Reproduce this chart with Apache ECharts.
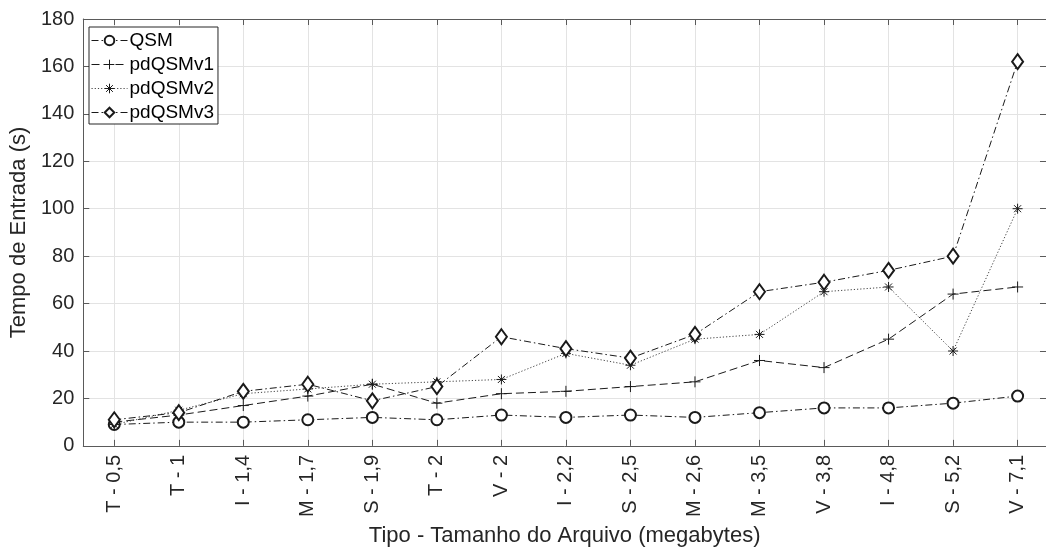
<!DOCTYPE html>
<html>
<head>
<meta charset="utf-8">
<script src="https://cdn.jsdelivr.net/npm/echarts@6/dist/echarts.min.js"></script>
<style>
  html, body { margin: 0; padding: 0; background: #fff; }
  #chart { width: 1046px; height: 552px; }
</style>
</head>
<body>
<div id="chart"></div>
<script>
// categorias (tipo - tamanho)
const categories = ['T - 0,5', 'T - 1', 'I - 1,4', 'M - 1,7', 'S - 1,9', 'T - 2', 'V - 2', 'I - 2,2',
    'S - 2,5', 'M - 2,6', 'M - 3,5', 'V - 3,8', 'I - 4,8', 'S - 5,2', 'V - 7,1'];

// tempos de entrada (s)
const qsm      = [9, 10, 10, 11, 12, 11, 13, 12, 13, 12, 14, 16, 16, 18, 21];
const pdqsmv1  = [10, 13, 17, 21, 26, 18, 22, 23, 25, 27, 36, 33, 45, 64, 67];
const pdqsmv2  = [9, 15, 22, 24, 26, 27, 28, 39, 34, 45, 47, 65, 67, 40, 100];
const pdqsmv3  = [11, 14, 23, 26, 19, 25, 46, 41, 37, 47, 65, 69, 74, 80, 162];

const yTicks = [0, 20, 40, 60, 80, 100, 120, 140, 160, 180];

const ink = '#1a1a1a';
const txt = '#262626';
const axisCol = '#5a5a5a';
const idx = categories.map((c, i) => i);
const pts = arr => arr.map((v, i) => [i, v]);

const plusPath = 'path://M5,0L5,10M0,5L10,5';
const starPath = 'path://M5,0L5,10M0,5L10,5M1.5,1.5L8.5,8.5M8.5,1.5L1.5,8.5';

function mkSeries(name, arr, symbol, size, dash, color) {
    return {
        name: name,
        type: 'line',
        data: pts(arr),
        symbol: symbol,
        symbolSize: size,
        color: color,
        lineStyle: { color: color, width: 1, type: dash },
        itemStyle: { color: symbol.indexOf('path') === 0 ? 'rgba(0,0,0,0)' : color, borderColor: ink, borderWidth: 1 },
        emphasis: { disabled: true },
        animation: false
    };
}

const chart = echarts.init(document.getElementById('chart'));
chart.setOption({
    backgroundColor: '#fff',
    textStyle: { fontFamily: 'Liberation Sans, Arial, sans-serif' },
    grid: { left: 82, top: 19, right: 0, bottom: 106 },
    legend: {
        orient: 'vertical',
        left: 89,
        top: 27,
        backgroundColor: '#fff',
        borderColor: txt,
        borderWidth: 1,
        borderRadius: 0,
        padding: [4, 4, 2, 2],
        itemWidth: 36,
        itemHeight: 12,
        itemGap: 5,
        lineStyle: { width: 1 },
        itemStyle: { borderWidth: 1 },
        textStyle: { fontSize: 19, color: '#000', padding: [0, 0, 0, -3] },
        data: ['QSM', 'pdQSMv1', 'pdQSMv2', 'pdQSMv3']
    },
    xAxis: [{
        type: 'value',
        min: -0.48,
        max: 14.44,
        name: 'Tipo - Tamanho do Arquivo (megabytes)',
        nameLocation: 'middle',
        nameGap: 68,
        nameTextStyle: { fontSize: 22, color: txt, verticalAlign: 'top' },
        axisLine: { show: true, onZero: false, lineStyle: { color: axisCol, width: 1 } },
        axisTick: { show: true, inside: true, length: 6, customValues: idx, lineStyle: { color: axisCol } },
        axisLabel: {
            rotate: 90, fontSize: 20, color: txt, margin: 9, customValues: idx,
            formatter: v => categories[Math.round(v)]
        },
        splitLine: { show: true, lineStyle: { color: '#e3e3e3', width: 1 } }
    }, {
        type: 'value',
        position: 'top',
        min: -0.48,
        max: 14.44,
        axisLine: { show: true, onZero: false, lineStyle: { color: axisCol, width: 1 } },
        axisTick: { show: true, inside: true, length: 6, customValues: idx, lineStyle: { color: axisCol } },
        axisLabel: { show: false },
        splitLine: { show: false }
    }],
    yAxis: [{
        type: 'value',
        min: yTicks[0],
        max: yTicks[yTicks.length - 1],
        interval: 20,
        name: 'Tempo de Entrada (s)',
        nameLocation: 'middle',
        nameGap: 47,
        nameTextStyle: { fontSize: 22, color: txt },
        axisLine: { show: true, onZero: false, lineStyle: { color: axisCol, width: 1 } },
        axisTick: { show: true, inside: true, length: 6, lineStyle: { color: axisCol } },
        axisLabel: { fontSize: 20, color: txt, margin: 9 },
        splitLine: { show: true, lineStyle: { color: '#e3e3e3', width: 1 } }
    }, {
        type: 'value',
        position: 'right',
        min: yTicks[0],
        max: yTicks[yTicks.length - 1],
        interval: 20,
        axisLine: { show: true, onZero: false, lineStyle: { color: axisCol, width: 1 } },
        axisTick: { show: true, inside: true, length: 6, lineStyle: { color: axisCol } },
        axisLabel: { show: false },
        splitLine: { show: false }
    }],
    series: [
        mkSeries('QSM', qsm, 'emptyCircle', 11, [7, 3, 1.5, 3], ink),
        mkSeries('pdQSMv1', pdqsmv1, plusPath, 11, [8, 4], ink),
        mkSeries('pdQSMv2', pdqsmv2, starPath, 10, [1.2, 2], '#444'),
        mkSeries('pdQSMv3', pdqsmv3, 'emptyDiamond', [11, 15], [7, 3, 1.5, 3], ink)
    ]
});
</script>
</body>
</html>
